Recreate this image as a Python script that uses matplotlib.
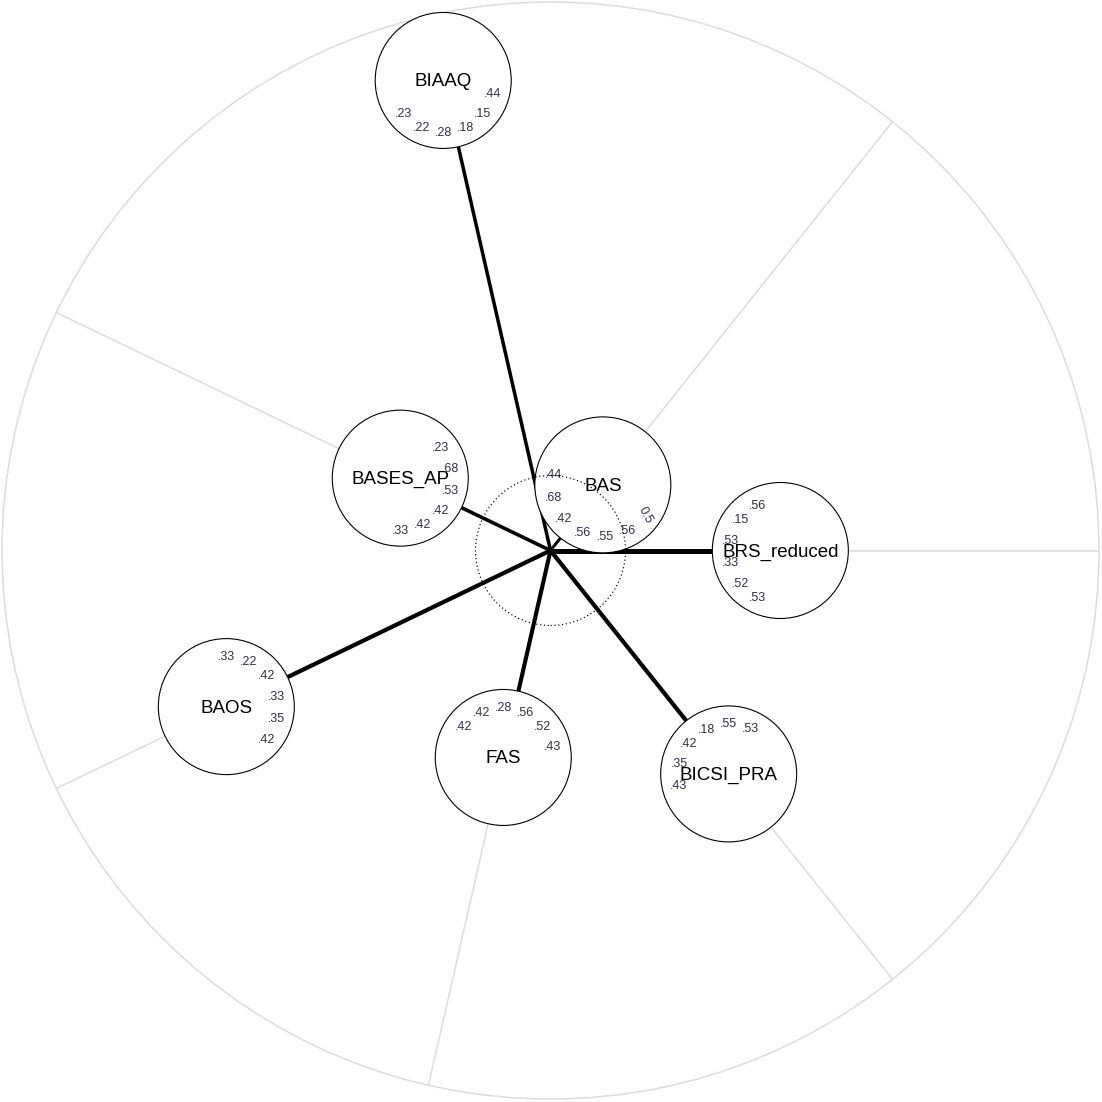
import numpy as np
import matplotlib.pyplot as plt
from matplotlib.patches import Circle

plt.rcParams['font.family'] = ['Liberation Sans', 'DejaVu Sans']

# factors, counter-clockwise starting at 3 o'clock
factors = ['BRS_reduced', 'BAS', 'BIAAQ', 'BASES_AP', 'BAOS', 'FAS', 'BICSI_PRA']
# distance of each factor from the hub (share of the outer radius)
dist = [0.419, 0.153, 0.879, 0.304, 0.656, 0.387, 0.521]
# strength of the path from the hub to each factor
edge_w = [0.50, 0.30, 0.35, 0.36, 0.42, 0.41, 0.42]
# item loadings, listed clockwise around each factor
loadings = {
    'BRS_reduced': ['.53', '.52', '.33', '.53', '.15', '.56'],
    'BAS': ['0.5', '.56', '.55', '.56', '.42', '.68', '.44'],
    'BIAAQ': ['.44', '.15', '.18', '.28', '.22', '.23'],
    'BASES_AP': ['.23', '.68', '.53', '.42', '.42', '.33'],
    'BAOS': ['.33', '.22', '.42', '.33', '.35', '.42'],
    'FAS': ['.42', '.42', '.28', '.56', '.52', '.43'],
    'BICSI_PRA': ['.43', '.35', '.42', '.18', '.55', '.53'],
}

R_OUT = 548.5      # outer circle radius (px)
R_NODE = 68        # factor circle radius (px)
R_LAB = 51         # radius of the loading labels inside a factor circle
STEP = 25.5        # angular step between loading labels
R_HUB = 75         # dotted hub circle
DY = -1.5          # small downward nudge for text

fig = plt.figure(figsize=(11.02, 11.02), dpi=100)
ax = fig.add_axes([0, 0, 1, 1])
ax.set_xlim(-550.5, 551.5)
ax.set_ylim(-551.5, 550.5)
ax.set_aspect('equal')
ax.axis('off')

px = 0.72  # px -> pt at 100 dpi

ax.add_patch(Circle((0, 0), R_OUT, fill=False, ec='#dcdcdc', lw=1.5 * px, zorder=1))

n = len(factors)
for i, name in enumerate(factors):
    th = np.deg2rad(i * 360 / n)
    u = np.array([np.cos(th), np.sin(th)])
    d = dist[i] * R_OUT
    c = d * u

    # grey spoke from the factor out to the rim
    if d + R_NODE < R_OUT:
        p0, p1 = (d + R_NODE) * u, R_OUT * u
        ax.plot([p0[0], p1[0]], [p0[1], p1[1]], color='#dcdcdc', lw=1.5 * px, zorder=1)

    # path from the hub
    p1 = (d - R_NODE) * u
    ax.plot([0, p1[0]], [0, p1[1]], color='black', lw=edge_w[i] * 10 * px,
            solid_capstyle='butt', zorder=2)

    ax.add_patch(Circle(c, R_NODE, fc='white', ec='black', lw=1.1 * px, zorder=3))
    ax.text(c[0], c[1] + DY, name, fontsize=13.5, ha='center', va='center',
            color='black', zorder=5)

    # loadings arranged around the side facing the hub
    labs = loadings[name]
    mid = i * 360 / n + 180
    if name == 'BAS':
        mid += 15
    step = 26.5 if len(labs) == 7 else STEP
    start = mid + step * (len(labs) - 1) / 2
    for k, lab in enumerate(labs):
        a = np.deg2rad(start - k * step)
        x, y = c[0] + R_LAB * np.cos(a), c[1] + R_LAB * np.sin(a) + DY
        rot = -62 if lab.startswith('0') else 0
        ax.text(x, y, lab, fontsize=9, ha='center', va='center', color='#2f2f4f',
                rotation=rot, zorder=4)

ax.add_patch(Circle((0, 0), R_HUB, fill=False, ec='black', lw=1.2 * px,
                    ls=(0, (1, 2.2)), zorder=6))

fig.savefig('out.png', dpi=100, facecolor='white')
